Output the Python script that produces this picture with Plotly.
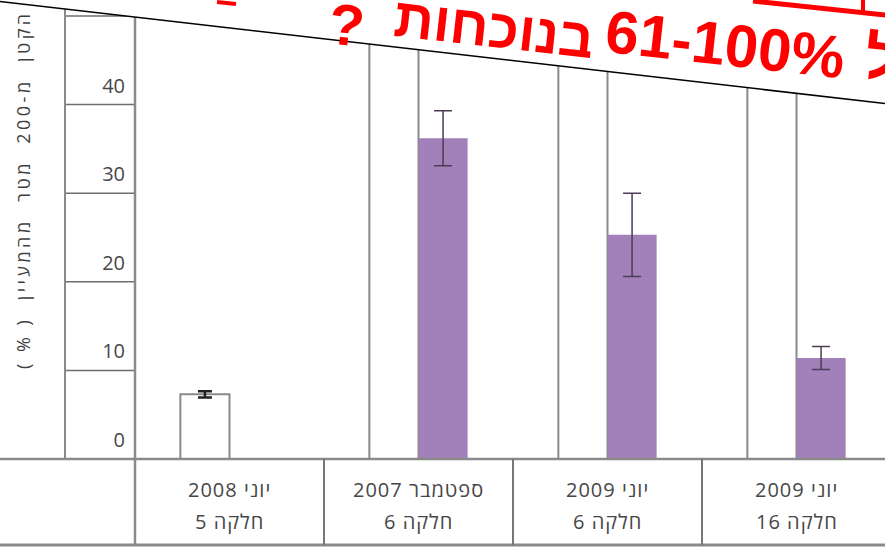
import plotly.graph_objects as go

# ---------------- data ----------------
categories = ["יוני 2008|חלקה 5", "ספטמבר 2007|חלקה 6", "יוני 2009|חלקה 6", "יוני 2009|חלקה 16"]
label_line1 = ["יוני 2008", "ספטמבר 2007", "יוני 2009", "יוני 2009"]
label_line2 = ["חלקה 5", "חלקה 6", "חלקה 6", "חלקה 16"]
white_values = [7.3, 62, 62, 62]          # tall bars run off the top of the crop
white_err = [0.35, 0, 0, 0]
purple_values = [0, 36.2, 25.3, 11.4]
purple_err = [0, 3.1, 4.7, 1.3]
y_ticks = [0, 10, 20, 30, 40]
y_title = "הקטן\u00a0\u00a0מ-200\u00a0\u00a0מטר\u00a0\u00a0מהמעיין\u00a0\u00a0(\u00a0%\u00a0)\u200f"
red_chunks = ["?", "בנוכחות", "61-100%", "ל"]

# ---------------- layout geometry (pixels) ----------------
W, H = 885, 549
PL, PR, PT, PB = 135, 885, 0, 459


def px(x):
    return (x - PL) / (PR - PL)


def py(y):
    return (PB - y) / (PB - PT)


GRAY = "#8a8a8a"
TXT = "#474747"
PURPLE = "#a280b9"

fig = go.Figure()
fig.add_trace(go.Bar(
    x=categories, y=white_values,
    marker=dict(color="white", line=dict(color=GRAY, width=2)),
    error_y=dict(type="data", array=white_err, color="#222222", thickness=2.5, width=7),
    showlegend=False,
))
fig.add_trace(go.Bar(
    x=categories, y=purple_values,
    marker=dict(color=PURPLE, line=dict(width=0)),
    error_y=dict(type="data", array=purple_err, color="#4a3d55", thickness=1.5, width=9),
    showlegend=False,
))

shapes = []
# tick column gridlines
for v in y_ticks + [50]:
    shapes.append(dict(type="line", xref="paper", yref="y", x0=px(65), x1=px(135), y0=v, y1=v,
                       line=dict(color="#6e6e6e", width=1.5)))
# frame lines
shapes.append(dict(type="line", xref="paper", yref="paper", x0=px(65), x1=px(65), y0=py(459), y1=py(-5),
                   line=dict(color=GRAY, width=2)))
shapes.append(dict(type="line", xref="paper", yref="paper", x0=px(135), x1=px(135), y0=py(545), y1=py(-5),
                   line=dict(color=GRAY, width=2.5)))
shapes.append(dict(type="line", xref="paper", yref="paper", x0=px(0), x1=px(890), y0=py(459), y1=py(459),
                   line=dict(color=GRAY, width=2.5)))
shapes.append(dict(type="line", xref="paper", yref="paper", x0=px(0), x1=px(890), y0=py(545), y1=py(545),
                   line=dict(color=GRAY, width=3)))
for b in [0.5, 1.5, 2.5]:
    shapes.append(dict(type="line", xref="x", yref="paper", x0=b, x1=b, y0=py(545), y1=py(459),
                       line=dict(color="#777777", width=2)))


# overlay: white triangle + diagonal line
def line_y(x):
    return 1.5 + x * (102 / 885)


path = "M {},{} L {},{} L {},{} L {},{} Z".format(
    px(-5), py(-10), px(890), py(-10), px(890), py(line_y(890)), px(-5), py(line_y(-5)))
shapes.append(dict(type="path", xref="paper", yref="paper", path=path,
                   fillcolor="white", line=dict(width=0), layer="above"))
shapes.append(dict(type="line", xref="paper", yref="paper", x0=px(-5), y0=py(line_y(-5)),
                   x1=px(890), y1=py(line_y(890)), line=dict(color="black", width=1.6), layer="above"))
# red underline of a line of text above (cut off)
shapes.append(dict(type="line", xref="paper", yref="paper", x0=px(753), y0=py(1), x1=px(890), y1=py(15.5),
                   line=dict(color="red", width=5), layer="above"))
shapes.append(dict(type="line", xref="paper", yref="paper", x0=px(863), y0=py(-5), x1=px(863), y1=py(12),
                   line=dict(color="red", width=4), layer="above"))
shapes.append(dict(type="line", xref="paper", yref="paper", x0=px(217), y0=py(2), x1=px(236), y1=py(4),
                   line=dict(color="red", width=4), layer="above"))

FONT = "Open Sans, Liberation Sans"
annotations = []
# category labels
for c, l1, l2 in zip(categories, label_line1, label_line2):
    for txt, yy in ((l1, 490), (l2, 521)):
        annotations.append(dict(x=c, xref="x", y=py(yy), yref="paper",
                                text='<span style="letter-spacing:1px">%s</span>' % txt, showarrow=False,
                                xanchor="center", yanchor="middle",
                                font=dict(family=FONT, size=20, color=TXT)))
# y title
annotations.append(dict(x=px(23), xref="paper", y=py(190), yref="paper",
                        text='<span style="letter-spacing:3.5px">%s</span>' % y_title, showarrow=False,
                        xanchor="center", yanchor="middle",
                        textangle=-90, font=dict(family=FONT, size=18, color="#404040")))
# red rotated text chunks (centres in pixels, font sizes)
red_pos = [(346, 25), (494, 28), (725, 45), (882, 58)]
red_size = [58, 55, 60, 60]
for t, (cx, cy), sz in zip(red_chunks, red_pos, red_size):
    annotations.append(dict(x=px(cx), xref="paper", y=py(cy), yref="paper", text="<b>%s</b>" % t,
                            showarrow=False, textangle=6.45, xanchor="center", yanchor="middle",
                            font=dict(family="Liberation Sans, Arial", size=sz, color="red")))

fig.update_layout(
    width=W, height=H,
    margin=dict(l=PL, r=W - PR, t=PT, b=H - PB, pad=0),
    paper_bgcolor="white", plot_bgcolor="white",
    barmode="group", bargap=0.48, bargroupgap=0,
    shapes=shapes, annotations=annotations,
    xaxis=dict(range=[-0.5, -0.5 + (PR - PL) / 189.0], showticklabels=False, showgrid=False,
               zeroline=False, showline=False, ticks=""),
    yaxis=dict(range=[0, PB / 8.86], tickvals=y_ticks, ticktext=[str(v) for v in y_ticks],
               showgrid=False, zeroline=False, showline=False, ticks="",
               ticklabelshift=-19, ticklabelstandoff=9,
               tickfont=dict(family=FONT, size=20, color=TXT)),
)

fig.write_html("out.html")
